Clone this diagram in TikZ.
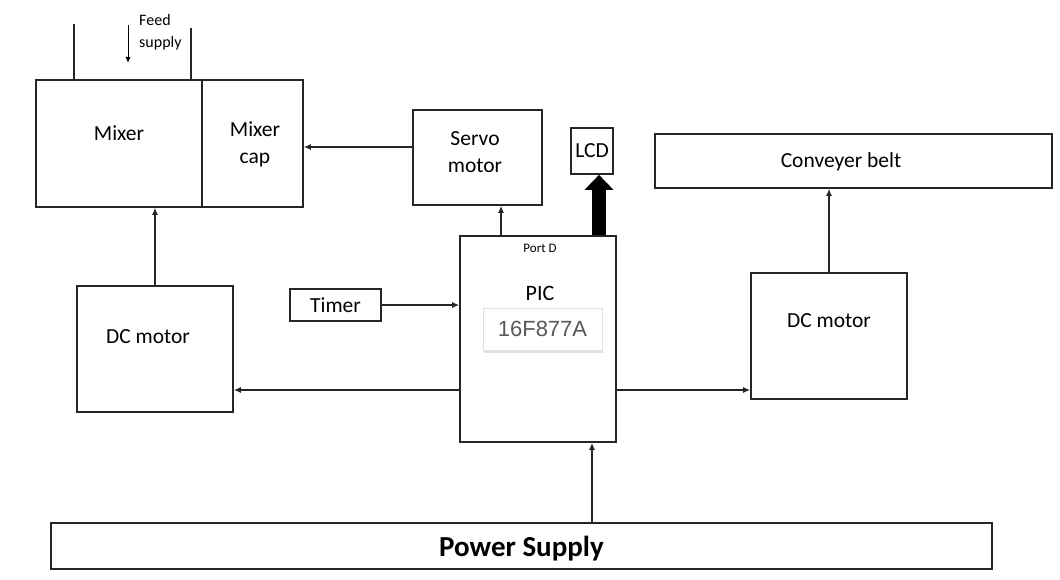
\documentclass[tikz,border=0pt]{standalone}
\usepackage{fontspec}
\setmainfont{Carlito}
\newfontfamily\arialfont{Liberation Sans}
\usetikzlibrary{arrows.meta,shadows}
\tikzset{
  blk/.style={draw=black!85, line width=1.7pt, inner sep=0pt},
  txt/.style={inner sep=0pt, align=center, font=\fontsize{21.5}{27}\selectfont},
  conn/.style={line width=1.2pt, draw=black!85, -{Latex[length=7pt,width=6pt]}},
  pipe/.style={line width=1.8pt, draw=black!85}
}
\begin{document}
\begin{tikzpicture}[x=1pt, y=-1pt]
  \useasboundingbox (0,0) rectangle (1060,580);
  % Mixer and mixer cap
  \node[blk, minimum width=166pt, minimum height=127pt] (mixer) at (119,143.5) {};
  \node[blk, minimum width=101pt, minimum height=127pt] (cap) at (252.5,143.5) {};
  \node[txt] (mixertxt) at (119,133) {Mixer};
  \node[txt] (captxt) at (255,144) {Mixer\\cap};
  % Feed supply
  \draw[pipe] (mixer.north -| 74,0) -- (74,24);
  \draw[pipe] (mixer.north -| 191,0) -- (191,28);
  \coordinate (feedtop) at (128,25);
  \coordinate (feedbot) at (128,63);
  \draw[line width=1pt, -{Latex[length=6pt,width=5pt]}] (feedtop) -- (feedbot);
  \node[txt, align=left, font=\fontsize{16}{22}\selectfont, anchor=west] (feedtxt) at (139,32) {Feed\\supply};
  % Servo motor and LCD
  \node[blk, minimum width=129pt, minimum height=95pt] (servo) at (477.5,157.5) {};
  \node[txt] (servotxt) at (475,152) {Servo\\motor};
  \node[blk, minimum width=42pt, minimum height=46pt, font=\fontsize{21.5}{25}\selectfont] (lcd) at (592,151) {LCD};
  % PIC
  \node[blk, minimum width=156pt, minimum height=206pt] (pic) at (538,339) {};
  \node[txt, font=\fontsize{13}{15}\selectfont] (porttxt) at (540,248) {Port D};
  \node[txt, font=\fontsize{22}{25}\selectfont] (pictxt) at (540,293) {PIC};
  \node[fill=white, draw=black!12, minimum width=119pt, minimum height=42pt,
        drop shadow={opacity=0.25, shadow xshift=1pt, shadow yshift=-2.5pt},
        font=\arialfont\fontsize{22}{25}\selectfont, text=black!65] (chip) at (542.5,329) {16F877A};
  % Timer
  \node[blk, minimum width=91pt, minimum height=32pt, font=\fontsize{21.5}{25}\selectfont] (timer) at (335.5,305) {Timer};
  % DC motors
  \node[blk, minimum width=156pt, minimum height=126pt] (dcl) at (155,349) {};
  \node[txt] (dcltxt) at (148,337) {DC motor};
  \node[blk, minimum width=156pt, minimum height=126pt] (dcr) at (829,336) {};
  \node[txt] (dcrtxt) at (829,321) {DC motor};
  % Conveyer belt
  \node[blk, minimum width=397pt, minimum height=54pt] (belt) at (853.5,161) {};
  \node[txt] (belttxt) at (841,162) {Conveyer belt};
  % Power supply
  \node[blk, minimum width=941pt, minimum height=46pt] (power) at (521.5,546) {};
  \node[txt, font=\bfseries\fontsize{29}{34}\selectfont] (powertxt) at (521.5,549) {Power Supply};
  % Connectors
  \coordinate (servoout) at ([yshift=10.5pt]servo.west);
  \draw[conn] (servoout) -- (servoout -| cap.east);
  \coordinate (portservo) at (pic.north -| 501,0);
  \draw[conn] (portservo) -- (portservo |- servo.south);
  \coordinate (portlcd) at (pic.north -| 599,0);
  \draw[line width=14pt, -{Triangle[length=15pt,width=28pt]}] (portlcd) -- (portlcd |- lcd.south);
  \draw[conn] (timer.east) -- (timer.east -| pic.west);
  \coordinate (picleft) at (pic.west |- 0,390);
  \draw[conn] (picleft) -- (picleft -| dcl.east);
  \coordinate (picright) at (pic.east |- 0,390);
  \draw[conn] (picright) -- (picright -| dcr.west);
  \draw[conn] (dcl.north) -- (dcl.north |- mixer.south);
  \draw[conn] (dcr.north) -- (dcr.north |- belt.south);
  \coordinate (powerout) at (power.north -| 592,0);
  \draw[conn] (powerout) -- (powerout |- pic.south);
\end{tikzpicture}
\end{document}
